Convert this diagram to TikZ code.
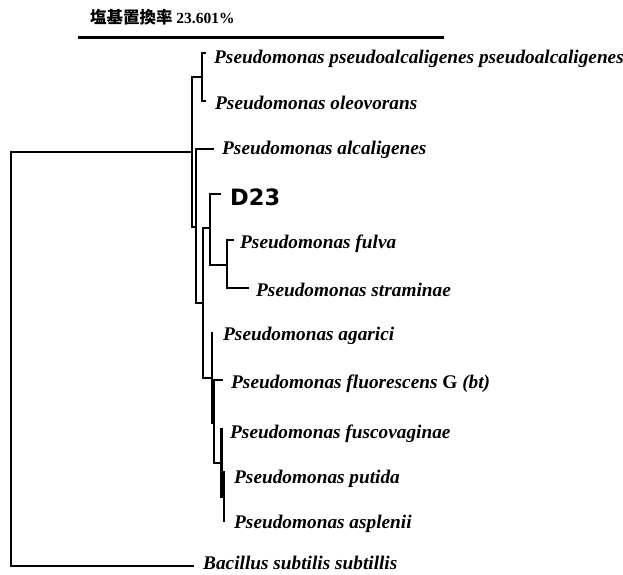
\documentclass[tikz,border=0pt]{standalone}
\usepackage{fontspec}
\setmainfont{Liberation Serif}
\newfontfamily\jpfont{Noto Sans CJK JP}
\newfontfamily\sansbold{DejaVu Sans}
\begin{document}
\begin{tikzpicture}[x=1pt,y=-1pt,
  branch/.style={line width=2.1pt,line join=miter,line cap=rect},
  taxon/.style={anchor=base west,inner sep=0pt,font=\fontsize{19.3}{20}\selectfont\bfseries\itshape},
  strain/.style={anchor=base west,inner sep=0pt,font=\sansbold\fontsize{22.5}{24}\selectfont\bfseries}]
\useasboundingbox (0,0) rectangle (623,574);

% scale bar
\node[anchor=base west,inner sep=0pt] (title) at (90,23)
  {\jpfont\bfseries\fontsize{16.5}{18}\selectfont 塩基置換率\ {\fontspec{Liberation Serif}\bfseries\fontsize{15.5}{18}\selectfont 23.601\%}};
\coordinate (sbL) at (79,37.5);
\coordinate (sbR) at (443,37.5);
\draw[branch] (sbL) -- (sbR);

% internal nodes
\coordinate (root) at (11,359.5);
\coordinate (nA) at (192,152);
\coordinate (nP) at (202,77);
\coordinate (nB) at (196,227);
\coordinate (nC) at (203,303);
\coordinate (nD) at (210,228);
\coordinate (nE) at (227,265);
\coordinate (nF) at (212,378);
\coordinate (nG) at (214,423);
\coordinate (nH) at (221.5,463);
\coordinate (nI) at (224,497);

% leaf tips
\coordinate (tPa) at (205,53);
\coordinate (tOl) at (205,101);
\coordinate (tAl) at (213,149);
\coordinate (tD) at (220,194);
\coordinate (tFu) at (233,240);
\coordinate (tSt) at (248,288);
\coordinate (tAg) at (212,333);
\coordinate (tFl) at (222,380);
\coordinate (tFv) at (221.5,429);
\coordinate (tPu) at (224,472);
\coordinate (tAs) at (224,521);
\coordinate (tBs) at (193,566);

% branches
\draw[branch] (root) |- (nA);
\draw[branch] (root) |- (tBs);
\draw[branch] (nA) |- (nP);
\draw[branch] (nA) |- (nB);
\draw[branch] (nP) |- (tPa);
\draw[branch] (nP) |- (tOl);
\draw[branch] (nB) |- (tAl);
\draw[branch] (nB) |- (nC);
\draw[branch] (nC) |- (nD);
\draw[branch] (nC) |- (nF);
\draw[branch] (nD) |- (tD);
\draw[branch] (nD) |- (nE);
\draw[branch] (nE) |- (tFu);
\draw[branch] (nE) |- (tSt);
\draw[branch] (nF) |- (tAg);
\draw[branch] (nF) |- (nG);
\draw[branch] (nG) |- (tFl);
\draw[branch] (nG) |- (nH);
\draw[branch] (nH) |- (tFv);
\draw[branch] (nH) |- (nI);
\draw[branch] (nI) |- (tPu);
\draw[branch] (nI) |- (tAs);

% labels
\node[taxon] (lPa) at (214,63) {Pseudomonas pseudoalcaligenes pseudoalcaligenes};
\node[taxon] (lOl) at (215,109) {Pseudomonas oleovorans};
\node[taxon] (lAl) at (222,154) {Pseudomonas alcaligenes};
\node[strain] (lD) at (230,205) {D23};
\node[taxon] (lFu) at (240,248) {Pseudomonas fulva};
\node[taxon] (lSt) at (256,296) {Pseudomonas straminae};
\node[taxon] (lAg) at (223,340) {Pseudomonas agarici};
\node[taxon] (lFl) at (231,388) {Pseudomonas fluorescens {\upshape G} (bt)};
\node[taxon] (lFv) at (230,438) {Pseudomonas fuscovaginae};
\node[taxon] (lPu) at (234,483) {Pseudomonas putida};
\node[taxon] (lAs) at (234,528) {Pseudomonas asplenii};
\node[taxon] (lBs) at (203,569.5) {Bacillus subtilis subtillis};
\end{tikzpicture}
\end{document}
